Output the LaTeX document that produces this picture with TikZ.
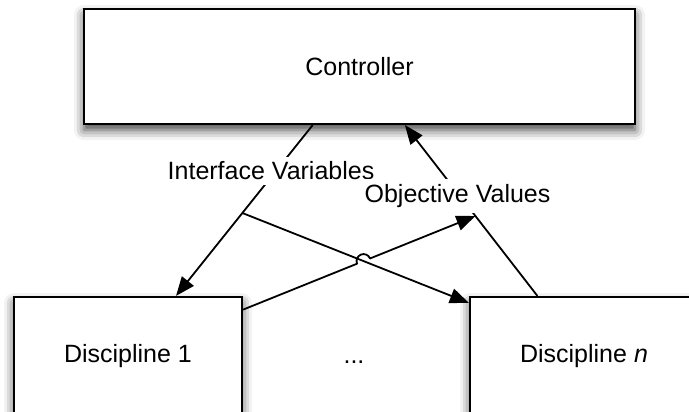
\documentclass[tikz,border=0pt]{standalone}
\usepackage{fontspec}
\setmainfont{Liberation Sans}
\usetikzlibrary{arrows.meta,calc,intersections,shadows.blur}
\begin{document}
\begin{tikzpicture}[x=1pt,y=-1pt,
  txt/.style={font=\fontsize{25}{30}\selectfont},
  box/.style={txt, draw=black, line width=2.2pt, fill=white,
    blur shadow={shadow xshift=0pt, shadow yshift=-6pt, shadow blur radius=10pt, shadow opacity=75}},
  conn/.style={line width=1.8pt, line join=round},
  arr/.style={conn, -{Triangle[length=19pt,width=15pt]}},
  lbl/.style={txt, fill=white, inner sep=5pt}]
\useasboundingbox (0,0) rectangle (689,412);
\clip (0,0) rectangle (689,412);
\node[box, minimum width=551pt, minimum height=115pt] (ctrl) at (359.5,66.5) {Controller};
\node[box, minimum width=228pt, minimum height=118pt] (d1) at (128,356) {Discipline 1};
\node[box, minimum width=228pt, minimum height=118pt] (dn) at (584,356) {Discipline \textit{n}};
\node[txt, anchor=base] (dots) at (354,363) {...};
\coordinate (jI) at ($(ctrl.center)!0.506!(d1.center)$);
\coordinate (jO) at ($(dn.center)!0.4836!(ctrl.center)$);
\coordinate (tn) at ($(dn.north west)+(0,7)$);
\draw[conn] (ctrl) -- (jI);
\draw[arr] (jI) -- (d1);
\draw[arr] (jI) -- (tn);
\draw[conn] (dn) -- (jO);
\draw[arr] (jO) -- (ctrl);
\path[name path=pa] (jI) -- (tn);
\path[name path=pb] (d1.center) -- (jO);
\path[name intersections={of=pa and pb, by=X}];
\coordinate (hs) at ($(X)!7pt!(d1.center)$);
\draw[arr] (d1) -- (hs) arc[start angle=201.95, end angle=21.95, radius=7pt] -- (jO);
\node[lbl] (iv) at (271,171) {Interface Variables};
\node[lbl] (ov) at (457.5,196) {Objective Values};
\end{tikzpicture}
\end{document}
